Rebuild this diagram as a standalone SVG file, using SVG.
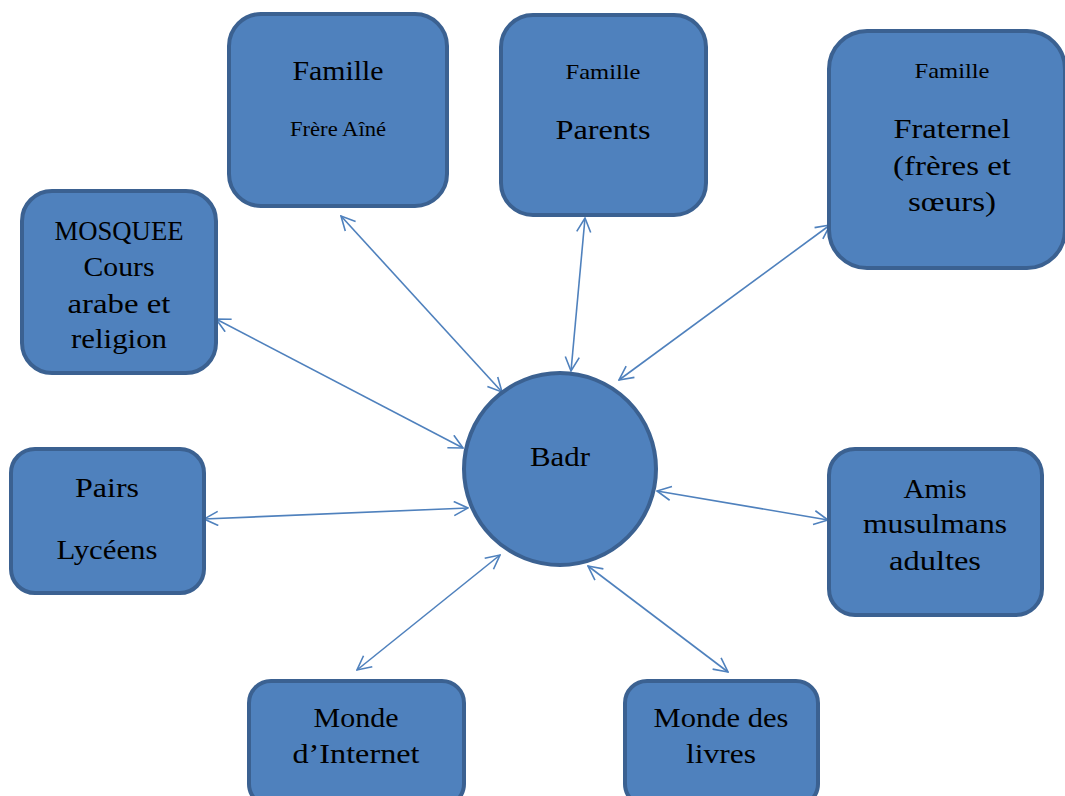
<svg xmlns="http://www.w3.org/2000/svg" width="1065" height="796" viewBox="0 0 1065 796">
<defs>
<style>
.box{fill:#4f81bd;stroke:#3b6191;stroke-width:4}
.t{font-family:"Liberation Serif","DejaVu Serif",serif;fill:#000;text-anchor:middle}
.l{font-size:27px}
.s{font-size:21px}
.c{stroke:#4f81bd;stroke-width:1.6;fill:none;marker-start:url(#a);marker-end:url(#a)}
</style>
<marker id="a" viewBox="0 0 16 16" refX="15" refY="8" markerWidth="16" markerHeight="16" markerUnits="userSpaceOnUse" orient="auto-start-reverse">
<path d="M1,1 L15,8 L1,15" fill="none" stroke="#4f81bd" stroke-width="1.6"/>
</marker>
</defs>
<rect width="1065" height="796" fill="#fff"/>
<g id="connectors">
<line class="c" x1="341" y1="216" x2="502" y2="392"/>
<line class="c" x1="585" y1="218" x2="571" y2="371"/>
<line class="c" x1="830" y1="225" x2="619" y2="380"/>
<line class="c" x1="216" y1="319" x2="463" y2="448"/>
<line class="c" x1="204" y1="519" x2="468" y2="508"/>
<line class="c" x1="657" y1="491" x2="828" y2="520"/>
<line class="c" x1="357" y1="670" x2="500" y2="555"/>
<line class="c" x1="588" y1="566" x2="728" y2="672"/>
</g>
<g id="frere">
<rect class="box" x="229" y="14" width="218" height="192" rx="32"/>
<text class="t l" x="338" y="80" textLength="91" lengthAdjust="spacingAndGlyphs">Famille</text>
<text class="t" style="font-size:20px" x="338" y="136" textLength="96" lengthAdjust="spacingAndGlyphs">Frère Aîné</text>
</g>
<g id="parents">
<rect class="box" x="501" y="15" width="205" height="200" rx="32"/>
<text class="t s" x="603" y="79" textLength="75" lengthAdjust="spacingAndGlyphs">Famille</text>
<text class="t l" x="603" y="139" textLength="95" lengthAdjust="spacingAndGlyphs">Parents</text>
</g>
<g id="fraternel">
<rect class="box" x="829" y="31" width="236" height="237" rx="38"/>
<text class="t s" x="952" y="78" textLength="75" lengthAdjust="spacingAndGlyphs">Famille</text>
<text class="t l" x="952" y="138" textLength="117" lengthAdjust="spacingAndGlyphs">Fraternel</text>
<text class="t l" x="952" y="175" textLength="118" lengthAdjust="spacingAndGlyphs">(frères et</text>
<text class="t l" x="952" y="211" textLength="88" lengthAdjust="spacingAndGlyphs">sœurs)</text>
</g>
<g id="mosquee">
<rect class="box" x="22" y="191" width="194" height="182" rx="30"/>
<text class="t l" x="119" y="240" textLength="129" lengthAdjust="spacingAndGlyphs">MOSQUEE</text>
<text class="t l" x="119" y="276" textLength="71" lengthAdjust="spacingAndGlyphs">Cours</text>
<text class="t l" x="119" y="313" textLength="103" lengthAdjust="spacingAndGlyphs">arabe et</text>
<text class="t l" x="119" y="348" textLength="96" lengthAdjust="spacingAndGlyphs">religion</text>
</g>
<g id="pairs">
<rect class="box" x="11" y="449" width="193" height="144" rx="24"/>
<text class="t l" x="107" y="497" textLength="64" lengthAdjust="spacingAndGlyphs">Pairs</text>
<text class="t l" x="107" y="559" textLength="101" lengthAdjust="spacingAndGlyphs">Lycéens</text>
</g>
<g id="badr">
<circle cx="560" cy="469" r="96" fill="#4f81bd" stroke="#3b6191" stroke-width="4"/>
<text class="t l" x="560" y="466" textLength="60" lengthAdjust="spacingAndGlyphs">Badr</text>
</g>
<g id="amis">
<rect class="box" x="829" y="449" width="213" height="166" rx="26"/>
<text class="t l" x="935" y="498" textLength="63" lengthAdjust="spacingAndGlyphs">Amis</text>
<text class="t l" x="935" y="533" textLength="144" lengthAdjust="spacingAndGlyphs">musulmans</text>
<text class="t l" x="935" y="570" textLength="92" lengthAdjust="spacingAndGlyphs">adultes</text>
</g>
<g id="internet">
<rect class="box" x="249" y="681" width="215" height="125" rx="22"/>
<text class="t l" x="356" y="727" textLength="85" lengthAdjust="spacingAndGlyphs">Monde</text>
<text class="t l" x="356" y="763" textLength="127" lengthAdjust="spacingAndGlyphs">d’Internet</text>
</g>
<g id="livres">
<rect class="box" x="625" y="681" width="193" height="125" rx="22"/>
<text class="t l" x="721" y="727" textLength="135" lengthAdjust="spacingAndGlyphs">Monde des</text>
<text class="t l" x="721" y="763" textLength="70" lengthAdjust="spacingAndGlyphs">livres</text>
</g>
</svg>
